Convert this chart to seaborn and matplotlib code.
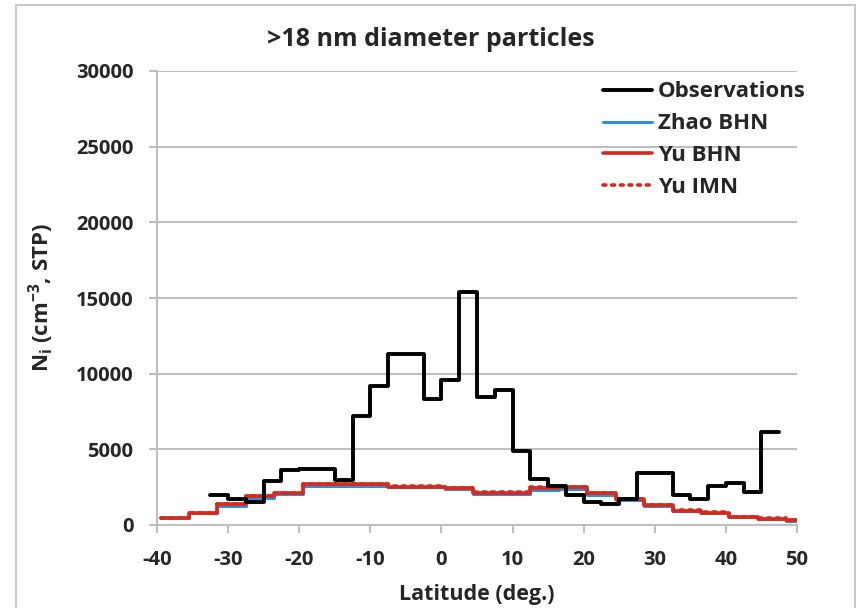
import matplotlib
matplotlib.use("Agg")
import matplotlib.pyplot as plt
import seaborn as sns
import numpy as np
import pandas as pd
from matplotlib.patches import Rectangle

# ---- data ----
obs_edges = [-32.5, -30, -27.5, -25, -22.5, -20, -17.5, -15, -12.5, -10, -7.5, -5,
             -2.5, 0, 2.5, 5, 7.5, 10, 12.5, 15, 17.5, 20, 22.5, 25, 27.5, 30,
             32.5, 35, 37.5, 40, 42.5, 45, 47.5]
obs_values = [1950, 1700, 1520, 2900, 3650, 3700, 3700, 3000, 7200, 9200, 11300, 11300,
              8300, 9600, 15400, 8450, 8950, 4900, 3050, 2600, 2000, 1550, 1400, 1750,
              3450, 3450, 1950, 1700, 2600, 2750, 2200, 6150]

model_edges = [-39.5, -35.5, -31.5, -27.5, -23.5, -19.5, -15.5, -11.5, -7.5, -3.5, 0.5,
               4.5, 8.5, 12.5, 16.5, 20.5, 24.5, 28.5, 32.5, 36.5, 40.5, 44.5, 48.5, 50]
zhao_bhn = [430, 760, 1250, 1800, 2050, 2600, 2600, 2600, 2480, 2480, 2380, 2080,
            2080, 2300, 2350, 1950, 1650, 1280, 920, 790, 520, 390, 290]
yu_bhn = [460, 800, 1370, 1900, 2100, 2700, 2700, 2700, 2520, 2520, 2420, 2130,
          2130, 2450, 2500, 2100, 1700, 1300, 930, 800, 530, 400, 300]
yu_imn = [480, 820, 1400, 1930, 2130, 2730, 2730, 2730, 2550, 2550, 2450, 2160,
          2160, 2480, 2530, 2130, 1730, 1330, 960, 830, 560, 430, 330]

x_ticks = [-40, -30, -20, -10, 0, 10, 20, 30, 40, 50]
y_ticks = [0, 5000, 10000, 15000, 20000, 25000, 30000]


def step_frame(edges, vals):
    return pd.DataFrame({"lat": edges, "N": list(vals) + [vals[-1]]})


sns.set_theme(style="white")
FONT = ["Open Sans", "Noto Sans", "DejaVu Sans"]
plt.rcParams["font.family"] = FONT
plt.rcParams["font.weight"] = "bold"
plt.rcParams["mathtext.fontset"] = "custom"
plt.rcParams["mathtext.rm"] = "Open Sans:bold"
plt.rcParams["mathtext.it"] = "Open Sans:bold"
plt.rcParams["mathtext.bf"] = "Open Sans:bold"
plt.rcParams["mathtext.default"] = "bf"

fig = plt.figure(figsize=(8.61, 6.08), dpi=100)
ax = fig.add_axes([157 / 861, 1 - 525 / 608, 640 / 861, 454 / 608])

grid_c = "#bfbfbf"
for yt in y_ticks[1:]:
    ax.axhline(yt, color=grid_c, lw=1.5, zorder=0)

blue = "#2d8fd8"
red = "#d62a1c"

sns.lineplot(data=step_frame(model_edges, zhao_bhn), x="lat", y="N", ax=ax,
             drawstyle="steps-post", color=blue, lw=2.2, label="Zhao BHN", zorder=3)
sns.lineplot(data=step_frame(model_edges, yu_bhn), x="lat", y="N", ax=ax,
             drawstyle="steps-post", color=red, lw=2.6, label="Yu BHN", zorder=4)
sns.lineplot(data=step_frame(model_edges, yu_imn), x="lat", y="N", ax=ax,
             drawstyle="steps-post", color=red, lw=2.6, linestyle=(0, (0.8, 1.6)),
             dash_capstyle="round", label="Yu IMN", zorder=5)
sns.lineplot(data=step_frame(obs_edges, obs_values), x="lat", y="N", ax=ax,
             drawstyle="steps-post", color="black", lw=2.8, label="Observations", zorder=6)

ax.set_xlim(-40, 50)
ax.set_ylim(0, 30000)
ax.set_xticks(x_ticks)
ax.set_yticks(y_ticks)
ax.set_xticklabels([str(v) for v in x_ticks])
ax.set_yticklabels([str(v) for v in y_ticks])

for s in ["top", "right"]:
    ax.spines[s].set_visible(False)
for s in ["left", "bottom"]:
    ax.spines[s].set_color(grid_c)
    ax.spines[s].set_linewidth(1.5)

ax.tick_params(axis="both", which="major", direction="out", length=6, width=1.5,
               color=grid_c, labelsize=14.5, left=True, bottom=True)
ax.tick_params(axis="y", pad=11)
ax.tick_params(axis="x", pad=12)
for lab in ax.get_xticklabels() + ax.get_yticklabels():
    lab.set_fontweight("bold")

ax.set_xlabel("Latitude (deg.)", fontsize=15.5, fontweight="bold")
ax.set_ylabel(r"N$_\mathrm{i}$ (cm$^\mathrm{-3}$, STP)", fontsize=16, fontweight="bold")
ax.xaxis.set_label_coords(0.5, -0.13)
ax.yaxis.set_label_coords(-0.158, 0.5)
fig.text(431 / 861, 1 - 40 / 608, ">18 nm diameter particles", ha="center", va="center",
         fontsize=18, fontweight="bold")

handles, labels = ax.get_legend_handles_labels()
order = ["Observations", "Zhao BHN", "Yu BHN", "Yu IMN"]
hmap = dict(zip(labels, handles))
leg = ax.legend([hmap[k] for k in order], order, loc="upper left",
                bbox_to_anchor=(0.697, 0.977), frameon=False,
                handlelength=2.2, handletextpad=0.25, labelspacing=0.49,
                borderpad=0.0, borderaxespad=0.0,
                prop={"family": FONT, "weight": "bold", "size": 16})

fig.patches.append(Rectangle((16 / 861, -0.02), (855 - 16) / 861, 1.02 - 5 / 608,
                             transform=fig.transFigure, fill=False,
                             edgecolor="#c8c8c8", lw=1.5))

fig.savefig("out.png", dpi=100, facecolor="white")
